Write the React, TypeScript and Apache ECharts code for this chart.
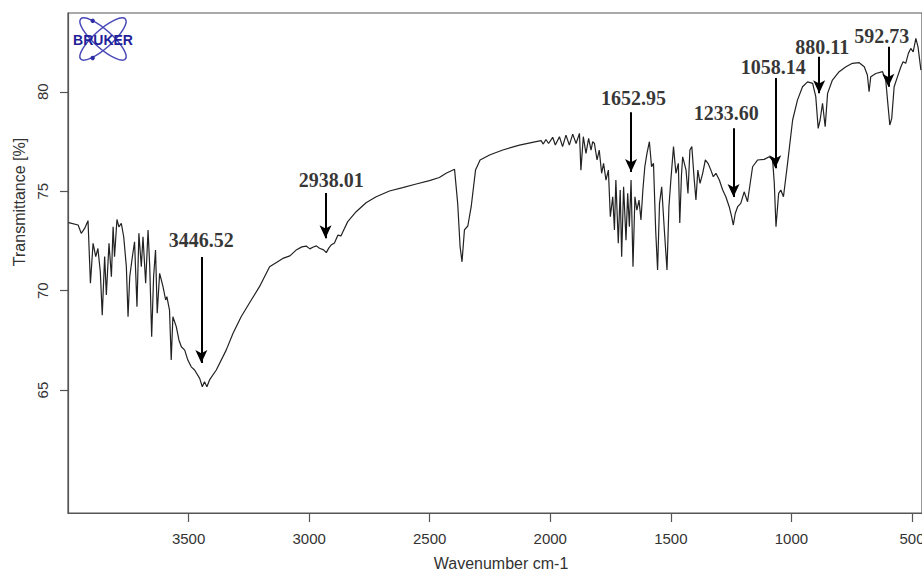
import React, { useEffect, useRef } from "react";
import * as echarts from "echarts";

const wavenumbers: number[] = [
  3998, 3993, 3958, 3945, 3931, 3917, 3907, 3896, 3885, 3876, 3866, 3858, 3848, 3841, 3830, 3820,
  3813, 3807, 3797, 3789, 3779, 3769, 3758, 3751, 3744, 3733, 3724, 3714, 3706, 3696, 3689, 3678,
  3668, 3661, 3653, 3645, 3637, 3630, 3620, 3606, 3595, 3590, 3579, 3572, 3565, 3551, 3540, 3530,
  3516, 3503, 3489, 3475, 3454, 3443, 3434, 3424, 3413, 3385, 3344, 3316, 3282, 3240, 3206,
  3164, 3109, 3080, 3054, 3030, 3012, 2997, 2985, 2970, 2957, 2940, 2929, 2918, 2909, 2895, 2881,
  2868, 2860, 2840, 2805, 2764, 2722, 2667, 2612, 2556, 2501, 2460, 2432, 2397, 2384, 2374, 2366,
  2356, 2342, 2328, 2310, 2291, 2252, 2197, 2128, 2059, 2038, 2029, 2018, 2007, 1990, 1979,
  1962, 1949, 1935, 1921, 1907, 1893, 1879, 1873, 1863, 1852, 1841, 1831, 1824,
  1817, 1806, 1797, 1787, 1779, 1769, 1759, 1751, 1741, 1734, 1728, 1718, 1710, 1704, 1696, 1686,
  1679, 1672, 1665, 1657, 1649, 1641, 1632, 1624, 1616, 1608, 1599, 1589, 1580, 1572, 1563, 1555,
  1547, 1538, 1527, 1516, 1508, 1500, 1489, 1479, 1469, 1463, 1456, 1451, 1444,
  1437, 1429, 1421, 1413, 1404, 1396, 1388, 1379, 1368, 1357, 1346, 1334, 1324, 1313, 1299, 1285,
  1272, 1258, 1248, 1241, 1233, 1223, 1210,
  1196, 1182, 1161, 1140, 1113, 1092, 1078, 1071, 1064, 1053, 1044, 1033, 1016, 995, 975, 954,
  933, 912, 899, 889, 881, 871, 860, 850, 830, 802, 774, 747, 719, 698, 685, 678, 671, 650, 622,
  609, 599, 592, 584, 574, 560, 546, 537, 526, 515, 505, 495, 484, 475, 463,
];

const transmittance: number[] = [
  73.42, 73.41, 73.3, 72.88, 73.13, 73.52, 70.37, 72.38, 71.71, 72.12, 70.95, 68.77, 71.71, 69.78, 72.38, 70.7,
  73.21, 71.71, 73.58, 73.21, 73.38, 72.71, 71.2, 68.69, 70.7, 71.71, 72.46, 69.19, 72.88, 71.2, 72.71, 70.37,
  73.05, 71.2, 67.68, 70.7, 72.04, 68.86, 70.87, 70.2, 69.53, 69.7, 69.02, 66.51, 68.69, 68.19, 67.52, 67.18,
  67.01, 66.51, 66.17, 66.01, 65.59, 65.17, 65.42, 65.17, 65.51, 66.01, 67.01, 67.85, 68.69, 69.53, 70.2,
  71.2, 71.62, 71.75, 72.04, 72.2, 72.24, 72.1, 72.18, 72.25, 72.13, 72.05, 71.91, 72.15, 72.29, 72.4, 72.79,
  72.75, 72.96, 73.47, 73.97, 74.42, 74.72, 75.01, 75.18, 75.36, 75.53, 75.69, 75.9, 76.1, 74.39, 72.21, 71.45,
  73.05, 73.25, 74.22, 76.06, 76.57, 76.82, 77.07, 77.32, 77.49, 77.54, 77.37, 77.6, 77.4, 77.71, 77.32,
  77.74, 77.24, 77.82, 77.32, 77.87, 77.4, 77.91, 76.06, 77.74, 76.9, 77.66, 77.07, 77.49,
  77.4, 76.57, 77.07, 75.9, 76.4, 75.56, 76.06, 73.72, 74.72, 73.05, 75.56, 72.38, 75.06, 71.71, 75.22, 72.54,
  74.89, 73.21, 75.56, 71.2, 74.72, 74.05, 74.55, 73.55, 75.06, 76.23, 76.9, 77.49, 76.23, 76.4, 73.05, 71.04,
  74.39, 75.22, 73.05, 71.04, 74.22, 75.56, 77.24, 75.9, 76.4, 73.4, 75.8, 76.73, 76.4,
  76.06, 74.89, 77.07, 77.24, 75.73, 74.56, 76.06, 75.39, 75.9, 76.57, 76.4, 76.06, 75.73, 75.9, 75.56, 75.06,
  74.72, 74.22, 73.72, 73.3, 73.88, 74.22, 74.39,
  74.97, 74.47, 76.23, 76.57, 76.6, 76.73, 76.57, 75.39, 73.21, 74.89, 75.06, 74.72, 76.4, 78.58, 79.58, 80.25,
  80.5, 80.42, 79.75, 78.16, 78.58, 79.42, 78.24, 79.92, 80.59, 81.01, 81.26, 81.43, 81.46, 81.26, 80.84, 80.0, 80.76, 80.92, 81.01,
  80.59, 79.25, 78.33, 78.66, 80.25, 80.76, 81.26, 81.51, 81.43, 81.93, 82.18, 82.01, 82.68, 82.26, 81.09,
];

const xTickValues = [3500, 3000, 2500, 2000, 1500, 1000, 500];
const yTickValues = [65, 70, 75, 80];

const peakLabels = ["3446.52", "2938.01", "1652.95", "1233.60", "1058.14", "880.11", "592.73"];
const labelWavenumbers = [3447, 2908, 1655, 1270, 1075, 872, 625];
const labelTransmittance = [72.54, 75.56, 79.68, 78.93, 81.22, 82.27, 82.78];
const arrowWavenumbers = [3447, 2932, 1665, 1240, 1067, 885, 598];
const arrowStart = [71.69, 74.91, 78.97, 78.17, 80.69, 81.76, 82.26];
const arrowEnd = [66.36, 72.64, 75.96, 74.71, 76.16, 79.93, 80.25];

const X_MIN = 458.5;
const X_MAX = 4000;
const Y_MIN = 58.82;
const Y_MAX = 83.96;

const SANS = "'Liberation Sans', Arial, sans-serif";
const SERIF = "'Liberation Serif', 'Times New Roman', serif";
const AXIS_COLOR = "#555";
const TEXT_COLOR = "#333";

export default function App() {
  const ref = useRef<HTMLDivElement>(null);

  useEffect(() => {
    if (!ref.current) return;
    const chart = echarts.init(ref.current, undefined, { renderer: "svg" });
    const spectrum = wavenumbers.map((w, i) => [w, transmittance[i]]);
    const logoBlue = "#2d2da6";

    chart.setOption({
      animation: false,
      backgroundColor: "#fff",
      grid: {
        left: 68,
        right: 18,
        top: 13,
        bottom: 57,
        show: true,
        borderColor: AXIS_COLOR,
        borderWidth: 1.2,
      },
      xAxis: {
        type: "value",
        inverse: true,
        min: X_MIN,
        max: X_MAX,
        splitLine: { show: false },
        axisLine: { show: true, lineStyle: { color: AXIS_COLOR, width: 1.2 } },
        axisTick: {
          show: true,
          length: 9,
          customValues: xTickValues,
          lineStyle: { color: AXIS_COLOR, width: 1.2 },
        },
        axisLabel: {
          customValues: xTickValues,
          formatter: (v: number) => String(v),
          margin: 18,
          fontSize: 15,
          fontFamily: SANS,
          color: TEXT_COLOR,
        },
      },
      yAxis: {
        type: "value",
        min: Y_MIN,
        max: Y_MAX,
        splitLine: { show: false },
        axisLine: { show: true, lineStyle: { color: AXIS_COLOR, width: 1.2 } },
        axisTick: {
          show: true,
          length: 8,
          customValues: yTickValues,
          lineStyle: { color: AXIS_COLOR, width: 1.2 },
        },
        axisLabel: {
          customValues: yTickValues,
          formatter: (v: number) => String(v),
          rotate: 90,
          margin: 18,
          fontSize: 15,
          fontFamily: SANS,
          color: TEXT_COLOR,
        },
      },
      graphic: [
        {
          type: "text",
          x: 19,
          y: 202,
          rotation: Math.PI / 2,
          style: {
            text: "Transmittance [%]",
            fontSize: 16,
            fontFamily: SANS,
            fill: TEXT_COLOR,
            align: "center",
            verticalAlign: "middle",
          },
        },
        {
          type: "text",
          x: 501,
          y: 563,
          style: {
            text: "Wavenumber cm-1",
            fontSize: 16,
            fontFamily: SANS,
            fill: TEXT_COLOR,
            align: "center",
            verticalAlign: "middle",
          },
        },
        {
          type: "ellipse",
          x: 103,
          y: 39,
          rotation: 0.73,
          shape: { cx: 0, cy: 0, rx: 30, ry: 9 },
          style: { fill: "none", stroke: "#4848b8", lineWidth: 1.5 },
        },
        {
          type: "ellipse",
          x: 103,
          y: 39,
          rotation: -0.73,
          shape: { cx: 0, cy: 0, rx: 30, ry: 9 },
          style: { fill: "none", stroke: "#4848b8", lineWidth: 1.5 },
        },
        { type: "circle", shape: { cx: 92.7, cy: 20.8, r: 2.2 }, style: { fill: logoBlue } },
        { type: "circle", shape: { cx: 92.7, cy: 58, r: 2.2 }, style: { fill: logoBlue } },
        {
          type: "text",
          x: 103,
          y: 40,
          style: {
            text: "BRUKER",
            fontSize: 14,
            fontWeight: "bold",
            fontFamily: SANS,
            fill: "#1f1f99",
            align: "center",
            verticalAlign: "middle",
          },
        },
      ],
      series: [
        {
          type: "line",
          data: spectrum,
          showSymbol: false,
          symbol: "none",
          lineStyle: { color: "#222", width: 1.2 },
          silent: true,
          z: 2,
        },
        {
          type: "scatter",
          data: peakLabels.map((t, i) => ({
            name: t,
            value: [labelWavenumbers[i], labelTransmittance[i]],
          })),
          symbolSize: 1,
          itemStyle: { color: "rgba(0,0,0,0)" },
          silent: true,
          z: 5,
          label: {
            show: true,
            position: "inside",
            formatter: "{b}",
            fontFamily: SERIF,
            fontWeight: "bold",
            fontSize: 20,
            color: "#000",
          },
          markLine: {
            silent: true,
            symbol: ["none", "arrow"],
            symbolSize: [9, 13],
            lineStyle: { color: "#000", width: 2, type: "solid" },
            label: { show: false },
            data: arrowWavenumbers.map((w, i) => [
              { coord: [w, arrowStart[i]] },
              { coord: [w, arrowEnd[i]] },
            ]),
          },
        },
      ],
    });

    return () => chart.dispose();
  }, []);

  return (
    <div
      style={{
        position: "fixed",
        left: 0,
        top: 0,
        width: 922,
        height: 570,
        overflow: "hidden",
        background: "#fff",
      }}
    >
      <div ref={ref} style={{ width: 940, height: 570 }} />
    </div>
  );
}
